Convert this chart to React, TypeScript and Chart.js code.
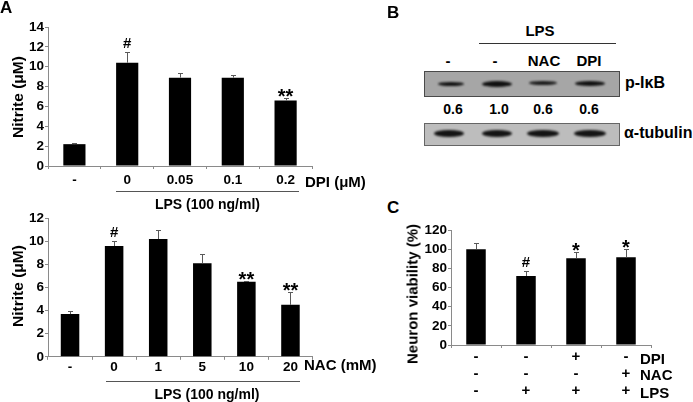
import React, { useEffect, useRef } from "react";
import { Chart, registerables } from "chart.js";

Chart.register(...registerables);

// ---------- Data ----------
const dpiLabels = ["-", "0", "0.05", "0.1", "0.2"];
const dpiNitrite = [2.2, 10.4, 8.9, 8.9, 6.6];
const dpiErr = [0.1, 1.1, 0.5, 0.25, 0.2];
const dpiMarks = ["", "#", "", "", "**"];

const nacLabels = ["-", "0", "1", "5", "10", "20"];
const nacNitrite = [3.7, 9.6, 10.2, 8.1, 6.5, 4.5];
const nacErr = [0.25, 0.4, 0.8, 0.85, 0.06, 1.1];
const nacMarks = ["", "#", "", "", "**", "**"];

const viabLabels = [
  ["-", "-", "-"],
  ["-", "-", "+"],
  ["+", "-", "+"],
  ["-", "+", "+"],
];
const viability = [100, 72, 90.5, 91.5];
const viabErr = [6.5, 5, 6.3, 8.4];
const viabMarks = ["", "#", "*", "*"];
const viabRowNames = ["DPI", "NAC", "LPS"];

const blotLanes = ["-", "-", "NAC", "DPI"];
const blotRatios = ["0.6", "1.0", "0.6", "0.6"];

// ---------- Styling ----------
const FONT = '"Liberation Sans", Arial, Helvetica, sans-serif';
const AXIS = "#8a8a8a";

const errorBarPlugin = {
  id: "errBars",
  afterDatasetsDraw(chart: any, _args: any, opts: any) {
    const { ctx } = chart;
    const ys = chart.scales.y;
    const meta = chart.getDatasetMeta(0);
    const data = chart.data.datasets[0].data as number[];
    ctx.save();
    meta.data.forEach((bar: any, i: number) => {
      const v = data[i];
      const e = opts.errors[i];
      const x = Math.round(bar.x) + 0.5;
      const yb = bar.y;
      const yt = Math.round(ys.getPixelForValue(v + e)) + 0.5;
      ctx.strokeStyle = "#5a5a5a";
      ctx.lineWidth = 1;
      ctx.beginPath();
      ctx.moveTo(x, yb);
      ctx.lineTo(x, yt);
      ctx.moveTo(x - 2.5, yt);
      ctx.lineTo(x + 2.5, yt);
      ctx.stroke();
      const m = opts.marks[i];
      if (m) {
        ctx.fillStyle = "#000";
        ctx.textAlign = "center";
        ctx.textBaseline = "middle";
        if (m === "#") {
          ctx.font = `bold 15px ${FONT}`;
          ctx.fillText(m, bar.x, yt - 8.5);
        } else {
          ctx.font = `bold 20px ${FONT}`;
          ctx.fillText(m, bar.x, yt - 1.5);
        }
      }
    });
    ctx.restore();
  },
};

interface Params {
  labels: any[];
  values: number[];
  errors: number[];
  marks: string[];
  yMax: number;
  step: number;
  yWidth: number;
  xHeight: number;
  padTop: number;
  padRight: number;
  barPct: number;
  xPad: number;
  xFont: number;
  xLine: number;
}

function makeChart(canvas: HTMLCanvasElement, p: Params) {
  return new Chart(canvas, {
    type: "bar",
    data: {
      labels: p.labels,
      datasets: [
        {
          data: p.values,
          backgroundColor: "#000",
          borderWidth: 0,
          barPercentage: p.barPct,
          categoryPercentage: 1,
        },
      ],
    },
    plugins: [errorBarPlugin as any],
    options: {
      responsive: false,
      devicePixelRatio: 1,
      animation: false,
      layout: { padding: { top: p.padTop, right: p.padRight, left: 0, bottom: 0 } },
      plugins: {
        legend: { display: false },
        tooltip: { enabled: false },
        errBars: { errors: p.errors, marks: p.marks },
      } as any,
      scales: {
        x: {
          grid: {
            display: true,
            drawOnChartArea: false,
            drawTicks: true,
            tickLength: 3,
            color: AXIS,
            offset: true,
          },
          border: { display: true, color: AXIS, width: 1 },
          ticks: {
            color: "#000",
            autoSkip: false,
            maxRotation: 0,
            padding: p.xPad,
            font: { family: FONT, size: p.xFont, weight: "bold", lineHeight: p.xLine },
          },
          afterFit: (s: any) => {
            s.height = p.xHeight;
          },
        },
        y: {
          min: 0,
          max: p.yMax,
          grid: {
            display: true,
            drawOnChartArea: false,
            drawTicks: true,
            tickLength: 3,
            color: AXIS,
          },
          border: { display: true, color: AXIS, width: 1 },
          ticks: {
            stepSize: p.step,
            autoSkip: false,
            color: "#000",
            padding: 1,
            font: { family: FONT, size: 13.5, weight: "bold", lineHeight: 1 },
          },
          afterFit: (s: any) => {
            s.width = p.yWidth;
          },
        },
      },
    } as any,
  });
}

const Txt = ({
  x,
  y,
  size,
  center,
  children,
}: {
  x: number;
  y: number;
  size: number;
  center?: boolean;
  children: any;
}) => (
  <div
    style={{
      position: "absolute",
      left: x,
      top: y,
      transform: `translate(${center ? "-50%" : "0"}, -50%)`,
      fontSize: size,
      fontWeight: "bold",
      fontFamily: FONT,
      lineHeight: 1,
      whiteSpace: "nowrap",
      color: "#000",
    }}
  >
    {children}
  </div>
);

const VTxt = ({ x, y, size, children }: { x: number; y: number; size: number; children: any }) => (
  <div
    style={{
      position: "absolute",
      left: x,
      top: y,
      transform: "translate(-50%, -50%) rotate(-90deg)",
      fontSize: size,
      fontWeight: "bold",
      fontFamily: FONT,
      lineHeight: 1,
      whiteSpace: "nowrap",
      color: "#000",
    }}
  >
    {children}
  </div>
);

const HLine = ({ x1, x2, y, color = "#555" }: { x1: number; x2: number; y: number; color?: string }) => (
  <div style={{ position: "absolute", left: x1, top: y, width: x2 - x1, height: 1, background: color }} />
);

const Band = ({ cx, cy, w, h, color = "#111" }: { cx: number; cy: number; w: number; h: number; color?: string }) => (
  <div
    style={{
      position: "absolute",
      left: cx - w / 2,
      top: cy - h / 2,
      width: w,
      height: h,
      borderRadius: "50%",
      background: color,
      filter: "blur(0.8px)",
    }}
  />
);

export default function App() {
  const c1 = useRef<HTMLCanvasElement>(null);
  const c2 = useRef<HTMLCanvasElement>(null);
  const c3 = useRef<HTMLCanvasElement>(null);

  useEffect(() => {
    const charts: Chart[] = [];
    if (c1.current)
      charts.push(
        makeChart(c1.current, {
          labels: dpiLabels,
          values: dpiNitrite,
          errors: dpiErr,
          marks: dpiMarks,
          yMax: 14,
          step: 2,
          yWidth: 48,
          xHeight: 34,
          padTop: 27,
          padRight: 33,
          barPct: 0.42,
          xPad: 3.5,
          xFont: 13.5,
          xLine: 1.2,
        })
      );
    if (c2.current)
      charts.push(
        makeChart(c2.current, {
          labels: nacLabels,
          values: nacNitrite,
          errors: nacErr,
          marks: nacMarks,
          yMax: 12,
          step: 2,
          yWidth: 48,
          xHeight: 45.2,
          padTop: 18.3,
          padRight: 32.5,
          barPct: 0.42,
          xPad: -1,
          xFont: 13.5,
          xLine: 1.2,
        })
      );
    if (c3.current)
      charts.push(
        makeChart(c3.current, {
          labels: viabLabels,
          values: viability,
          errors: viabErr,
          marks: viabMarks,
          yMax: 120,
          step: 20,
          yWidth: 51,
          xHeight: 57,
          padTop: 30,
          padRight: 42,
          barPct: 0.39,
          xPad: 0,
          xFont: 15,
          xLine: 17 / 15,
        })
      );
    return () => charts.forEach((c) => c.destroy());
  }, []);

  const laneX = [449, 497, 543, 590];
  const ratioX = [453, 499, 543, 589];

  return (
    <div
      style={{
        position: "absolute",
        left: 0,
        top: 0,
        width: 693,
        height: 402,
        background: "#fff",
        overflow: "hidden",
        fontFamily: FONT,
      }}
    >
      {/* Panel A top */}
      <canvas ref={c1} width={345} height={200} style={{ position: "absolute", left: 0, top: 0 }} />
      {/* Panel A bottom */}
      <canvas ref={c2} width={345} height={202} style={{ position: "absolute", left: 0, top: 200 }} />
      {/* Panel C */}
      <canvas ref={c3} width={293} height={202} style={{ position: "absolute", left: 400, top: 200 }} />

      <Txt x={0} y={7} size={17}>A</Txt>
      <Txt x={387} y={12} size={17}>B</Txt>
      <Txt x={387} y={207} size={17}>C</Txt>

      <VTxt x={17.5} y={96.7} size={15.5}>Nitrite (μM)</VTxt>
      <Txt x={305} y={181} size={15}>DPI (μM)</Txt>
      <HLine x1={116} x2={299} y={191} />
      <Txt x={207.5} y={204} size={14} center>LPS (100 ng/ml)</Txt>

      <VTxt x={17.5} y={286} size={15.5}>Nitrite (μM)</VTxt>
      <Txt x={304} y={363.5} size={15}>NAC (mM)</Txt>
      <HLine x1={106} x2={300} y={381} />
      <Txt x={207} y={393.5} size={14} center>LPS (100 ng/ml)</Txt>

      <VTxt x={412} y={294} size={15}>Neuron viability (%)</VTxt>
      {viabRowNames.map((n, i) => (
        <Txt key={n} x={640} y={[357.5, 374, 392][i]} size={15}>
          {n}
        </Txt>
      ))}

      {/* Panel B: western blot */}
      <Txt x={540} y={30} size={15} center>LPS</Txt>
      <HLine x1={479} x2={616} y={43} color="#333" />
      {blotLanes.map((l, i) => (
        <Txt key={i} x={[448, 495, 544, 589][i]} y={60} size={15} center>
          {l}
        </Txt>
      ))}
      <div
        style={{
          position: "absolute",
          left: 424,
          top: 71,
          width: 194,
          height: 24,
          background: "#a6a6a6",
          border: "1px solid #4a4a4a",
          overflow: "hidden",
        }}
      />
      <Band cx={laneX[0] + 2} cy={84} w={26} h={4} />
      <Band cx={laneX[1]} cy={83.5} w={30} h={6} />
      <Band cx={laneX[2]} cy={83} w={28} h={4} color="#1a1a1a" />
      <Band cx={laneX[3]} cy={83.5} w={30} h={5} />
      <Txt x={625} y={83} size={16}>p-IκB</Txt>
      {blotRatios.map((r, i) => (
        <Txt key={i} x={ratioX[i]} y={108.5} size={14} center>
          {r}
        </Txt>
      ))}
      <div
        style={{
          position: "absolute",
          left: 424,
          top: 123,
          width: 194,
          height: 21,
          background: "#bdbdbd",
          border: "1px solid #666",
        }}
      />
      {laneX.map((x, i) => (
        <Band key={i} cx={x} cy={133.5} w={[30, 30, 32, 32][i]} h={7} color="#141414" />
      ))}
      <Txt x={624} y={133} size={16}>α-tubulin</Txt>
    </div>
  );
}
